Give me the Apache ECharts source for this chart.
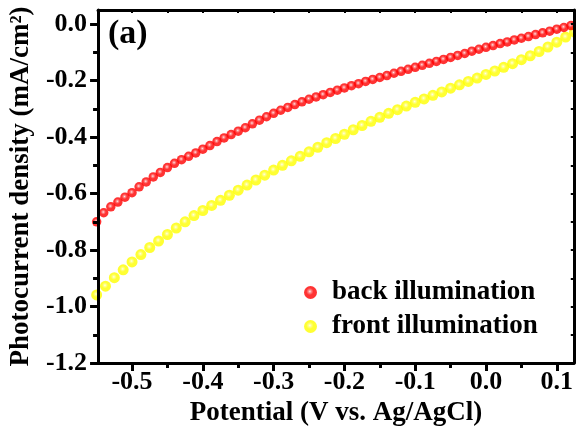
<!DOCTYPE html>
<html>
<head>
<meta charset="utf-8">
<script src="https://cdn.jsdelivr.net/npm/echarts@6/dist/echarts.min.js"></script>
<style>
  html, body { margin: 0; padding: 0; background: #fff; }
  #chart { width: 576px; height: 434px; }
</style>
</head>
<body>
<div id="chart"></div>
<script>
// Potentials (V vs. Ag/AgCl) and photocurrent densities (mA/cm2)
const backPotential = [
  -0.55, -0.54, -0.53, -0.52, -0.51, -0.50, -0.49, -0.48, -0.47, -0.46,
  -0.45, -0.44, -0.43, -0.42, -0.41, -0.40, -0.39, -0.38, -0.37, -0.36,
  -0.35, -0.34, -0.33, -0.32, -0.31, -0.30, -0.29, -0.28, -0.27, -0.26,
  -0.25, -0.24, -0.23, -0.22, -0.21, -0.20, -0.19, -0.18, -0.17, -0.16,
  -0.15, -0.14, -0.13, -0.12, -0.11, -0.10, -0.09, -0.08, -0.07, -0.06,
  -0.05, -0.04, -0.03, -0.02, -0.01, 0.00, 0.01, 0.02, 0.03, 0.04,
  0.05, 0.06, 0.07, 0.08, 0.09, 0.10, 0.11, 0.12
];
const backCurrent = [
  -0.700, -0.668, -0.647, -0.630, -0.613, -0.597, -0.576, -0.559, -0.541, -0.525,
  -0.508, -0.493, -0.480, -0.468, -0.456, -0.443, -0.430, -0.416, -0.403, -0.391,
  -0.379, -0.367, -0.353, -0.340, -0.328, -0.316, -0.305, -0.295, -0.285, -0.275,
  -0.266, -0.258, -0.250, -0.242, -0.234, -0.226, -0.218, -0.211, -0.203, -0.196,
  -0.189, -0.182, -0.174, -0.167, -0.160, -0.153, -0.146, -0.139, -0.132, -0.125,
  -0.118, -0.111, -0.104, -0.096, -0.089, -0.082, -0.076, -0.069, -0.063, -0.056,
  -0.050, -0.044, -0.037, -0.031, -0.025, -0.018, -0.012, -0.005
];
const frontPotential = [
  -0.5500, -0.5375, -0.5250, -0.5125, -0.5000, -0.4875, -0.4750, -0.4625, -0.4500, -0.4375,
  -0.4250, -0.4125, -0.4000, -0.3875, -0.3750, -0.3625, -0.3500, -0.3375, -0.3250, -0.3125,
  -0.3000, -0.2875, -0.2750, -0.2625, -0.2500, -0.2375, -0.2250, -0.2125, -0.2000, -0.1875,
  -0.1750, -0.1625, -0.1500, -0.1375, -0.1250, -0.1125, -0.1000, -0.0875, -0.0750, -0.0625,
  -0.0500, -0.0375, -0.0250, -0.0125, 0.0000, 0.0125, 0.0250, 0.0375, 0.0500, 0.0625,
  0.0750, 0.0875, 0.1000, 0.1125, 0.1250
];
const frontCurrent = [
  -0.959, -0.928, -0.898, -0.870, -0.842, -0.816, -0.791, -0.768, -0.745, -0.722,
  -0.700, -0.678, -0.660, -0.642, -0.624, -0.606, -0.588, -0.570, -0.552, -0.535,
  -0.517, -0.500, -0.484, -0.468, -0.452, -0.436, -0.420, -0.405, -0.390, -0.374,
  -0.359, -0.344, -0.330, -0.316, -0.303, -0.290, -0.277, -0.265, -0.252, -0.240,
  -0.227, -0.215, -0.203, -0.191, -0.178, -0.166, -0.153, -0.140, -0.126, -0.112,
  -0.097, -0.081, -0.064, -0.046, -0.028
];

// Axis ticks
const xMajorTicks = [-0.5, -0.4, -0.3, -0.2, -0.1, 0.0, 0.1];
const xMinorTicks = [-0.45, -0.35, -0.25, -0.15, -0.05, 0.05];
const yMajorTicks = [-1.2, -1.0, -0.8, -0.6, -0.4, -0.2, 0.0];
const yMinorTicks = [-1.1, -0.9, -0.7, -0.5, -0.3, -0.1];

const seriesNames = ['back illumination', 'front illumination'];

const FONT = '"Liberation Serif", "Times New Roman", serif';
const X_MIN = -0.548, X_MAX = 0.124;
const Y_MIN = -1.2, Y_MAX = 0.05;

function zip(xs, ys) { return xs.map((x, i) => [x, ys[i]]); }

// Shaded sphere fill for the markers
function ball(highlight, light, base) {
  return new echarts.graphic.RadialGradient(0.45, 0.42, 0.5, [
    { offset: 0, color: highlight },
    { offset: 0.22, color: light },
    { offset: 0.55, color: base },
    { offset: 1, color: base }
  ]);
}

const lineStyle = { color: '#000', width: 3 };
const labelStyle = {
  fontFamily: FONT, fontSize: 26, fontWeight: 'bold', color: '#000'
};
const fmt = v => Number(v).toFixed(1);

const chart = echarts.init(document.getElementById('chart'), null, { renderer: 'canvas' });
chart.setOption({
  animation: false,
  backgroundColor: '#fff',
  grid: { left: 97, right: 2, top: 10, bottom: 71 },
  xAxis: [
    {
      type: 'value', position: 'bottom', min: X_MIN, max: X_MAX, z: 5,
      axisLine: { show: true, onZero: false, lineStyle },
      axisTick: { show: true, inside: false, length: 8, lineStyle, customValues: xMajorTicks },
      axisLabel: { show: true, margin: 6, formatter: fmt, customValues: xMajorTicks, ...labelStyle },
      splitLine: { show: false },
      name: 'Potential (V vs. Ag/AgCl)',
      nameLocation: 'middle', nameGap: 30,
      nameTextStyle: { fontFamily: FONT, fontSize: 27, fontWeight: 'bold', color: '#000' }
    },
    {
      type: 'value', position: 'bottom', min: X_MIN, max: X_MAX, z: 5,
      axisLine: { show: false, onZero: false },
      axisTick: { show: true, inside: false, length: 5, lineStyle, customValues: xMinorTicks },
      axisLabel: { show: false },
      splitLine: { show: false }
    },
    {
      type: 'value', position: 'top', min: X_MIN, max: X_MAX, z: 5,
      axisLine: { show: true, onZero: false, lineStyle },
      axisTick: { show: true, inside: true, length: 3, lineStyle: { color: '#000', width: 2 },
                  customValues: xMajorTicks.concat(xMinorTicks) },
      axisLabel: { show: false },
      splitLine: { show: false }
    }
  ],
  yAxis: [
    {
      type: 'value', position: 'left', min: Y_MIN, max: Y_MAX, z: 5,
      axisLine: { show: true, onZero: false, lineStyle },
      axisTick: { show: true, inside: false, length: 8, lineStyle, customValues: yMajorTicks },
      axisLabel: { show: true, margin: 11, formatter: fmt, customValues: yMajorTicks, ...labelStyle },
      splitLine: { show: false },
      name: 'Photocurrent density (mA/cm\u00B2)',
      nameLocation: 'middle', nameGap: 58,
      nameTextStyle: { fontFamily: FONT, fontSize: 27, fontWeight: 'bold', color: '#000' }
    },
    {
      type: 'value', position: 'left', min: Y_MIN, max: Y_MAX, z: 5,
      axisLine: { show: false, onZero: false },
      axisTick: { show: true, inside: false, length: 5, lineStyle, customValues: yMinorTicks },
      axisLabel: { show: false },
      splitLine: { show: false }
    },
    {
      type: 'value', position: 'right', min: Y_MIN, max: Y_MAX, z: 5,
      axisLine: { show: true, onZero: false, lineStyle },
      axisTick: { show: true, inside: true, length: 3, lineStyle: { color: '#000', width: 2 },
                  customValues: yMajorTicks.concat(yMinorTicks) },
      axisLabel: { show: false },
      splitLine: { show: false }
    }
  ],
  legend: {
    orient: 'vertical', left: 299, top: 274,
    itemWidth: 13, itemHeight: 13, itemGap: 7,
    icon: 'circle',
    data: seriesNames,
    textStyle: {
      fontFamily: FONT, fontSize: 27, fontWeight: 'bold', color: '#000',
      lineHeight: 27, padding: [0, 0, 0, 10]
    }
  },
  graphic: [
    {
      type: 'text', left: 108, top: 17,
      style: { text: '(a)', fontFamily: FONT, fontSize: 34, fontWeight: 'bold', fill: '#000' }
    }
  ],
  series: [
    {
      name: seriesNames[1], type: 'scatter', clip: false, z: 2,
      symbol: 'circle', symbolSize: 11,
      itemStyle: { color: ball('#ffffe8', '#ffff70', '#ffff00') },
      data: zip(frontPotential, frontCurrent)
    },
    {
      name: seriesNames[0], type: 'scatter', clip: false, z: 3,
      symbol: 'circle', symbolSize: 9.5,
      itemStyle: { color: ball('#ffe8e8', '#ff7070', '#ff0000') },
      data: zip(backPotential, backCurrent)
    }
  ]
});
</script>
</body>
</html>
